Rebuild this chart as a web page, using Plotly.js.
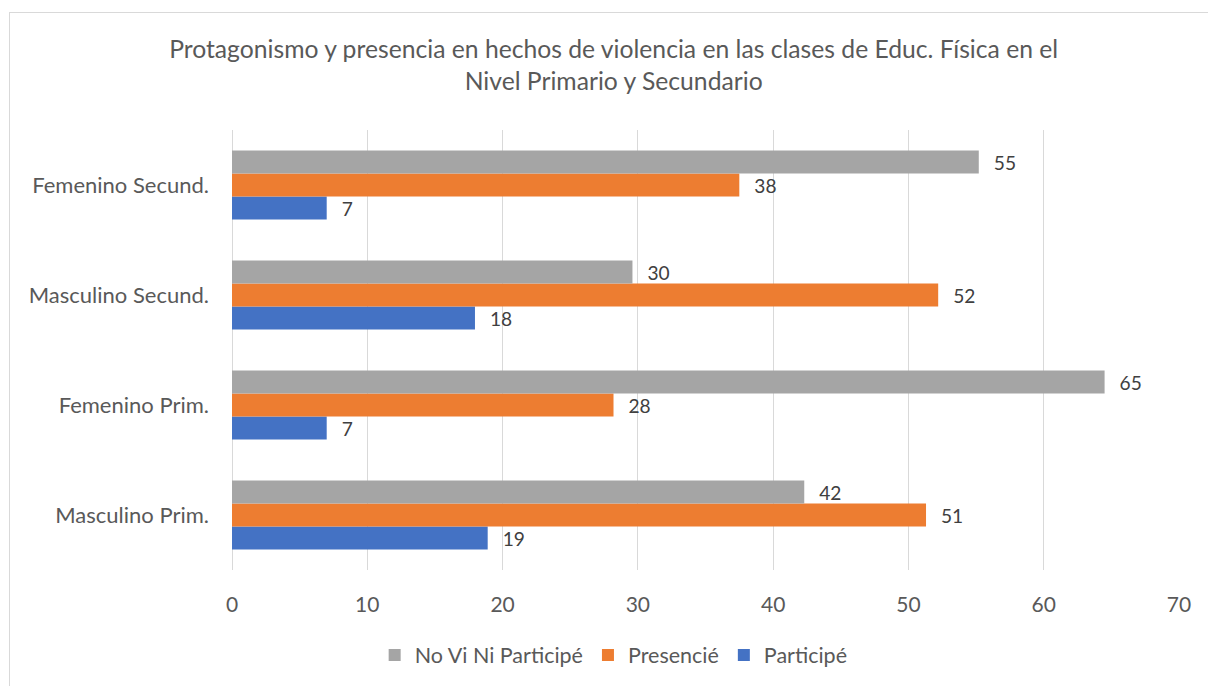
<!DOCTYPE html>
<html>
<head>
<meta charset="utf-8">
<script src="https://cdn.plot.ly/plotly-3.0.1.min.js"></script>
<style>
  html, body { margin: 0; padding: 0; background: #fff; }
  #wrap { position: relative; width: 1208px; height: 686px; overflow: hidden; }
  #frame { position: absolute; left: 9px; top: 12px; width: 1300px; height: 800px;
           border-left: 1px solid #D9D9D9; border-top: 1px solid #D9D9D9; pointer-events: none; }
  #chart { position: absolute; left: 0; top: 0; width: 1208px; height: 686px; }
</style>
</head>
<body>
<div id="wrap">
  <div id="chart"></div>
  <div id="frame"></div>
</div>
<script>
const categories = ["Masculino Prim.", "Femenino Prim.", "Masculino Secund.", "Femenino Secund."];
const participe = [18.9, 7.0, 17.96, 7.0];
const presencie = [51.3, 28.2, 52.2, 37.5];
const noViNiParticipe = [42.3, 64.5, 29.6, 55.2];
const seriesNames = ["Participé", "Presencié", "No Vi Ni Participé"];
const seriesColors = ["#4472C4", "#ED7D31", "#A5A5A5"];
const xTicks = [0, 10, 20, 30, 40, 50, 60, 70];

const font = "Lato, 'Open Sans', sans-serif";
const seriesValues = [participe, presencie, noViNiParticipe];

const traces = seriesValues.map((vals, i) => ({
  type: "bar",
  orientation: "h",
  name: seriesNames[i],
  y: categories,
  x: vals,
  marker: { color: seriesColors[i] },
  text: vals.map(v => "\u2002\u2009" + String(Math.round(v))),
  textposition: "outside",
  textfont: { family: font, size: 20, color: "#404040" },
  cliponaxis: false,
  hoverinfo: "x+name"
}));

const layout = {
  width: 1208,
  height: 686,
  paper_bgcolor: "rgba(0,0,0,0)",
  plot_bgcolor: "rgba(0,0,0,0)",
  font: { family: font, color: "#595959" },
  title: {
    text: "Protagonismo y presencia en hechos de violencia en las clases de Educ. Física en el<br>Nivel Primario y Secundario",
    font: { family: font, size: 24.7, color: "#595959" },
    x: 0.508, xanchor: "center",
    xref: "container",
    y: 1 - 58 / 686, yanchor: "top",
    yref: "container"
  },
  margin: { l: 232, r: 29, t: 130, b: 116, pad: 0 },
  barmode: "group",
  bargap: 0.373,
  bargroupgap: 0,
  xaxis: {
    range: [0, 70],
    tickvals: xTicks,
    ticktext: xTicks.map(String),
    showgrid: true,
    gridcolor: "#D9D9D9",
    gridwidth: 1,
    zeroline: true,
    zerolinecolor: "#D9D9D9",
    zerolinewidth: 1,
    showline: false,
    ticks: "",
    ticklabelstandoff: 20,
    tickfont: { family: font, size: 21, color: "#595959" },
    fixedrange: true
  },
  yaxis: {
    categoryorder: "array",
    categoryarray: categories,
    showgrid: false,
    zeroline: false,
    showline: false,
    ticks: "",
    ticklabelstandoff: 22,
    tickfont: { family: font, size: 22, color: "#595959" },
    fixedrange: true
  },
  showlegend: true,
  legend: {
    orientation: "h",
    traceorder: "reversed",
    xref: "container",
    yref: "container",
    x: 0.508, xanchor: "center",
    y: 1 - 655 / 686, yanchor: "middle",
    font: { family: font, size: 21.5, color: "#595959" },
    itemwidth: 20,
    itemsizing: "constant"
  }
};

Plotly.newPlot("chart", traces, layout, { displayModeBar: false, staticPlot: false });
</script>
</body>
</html>
